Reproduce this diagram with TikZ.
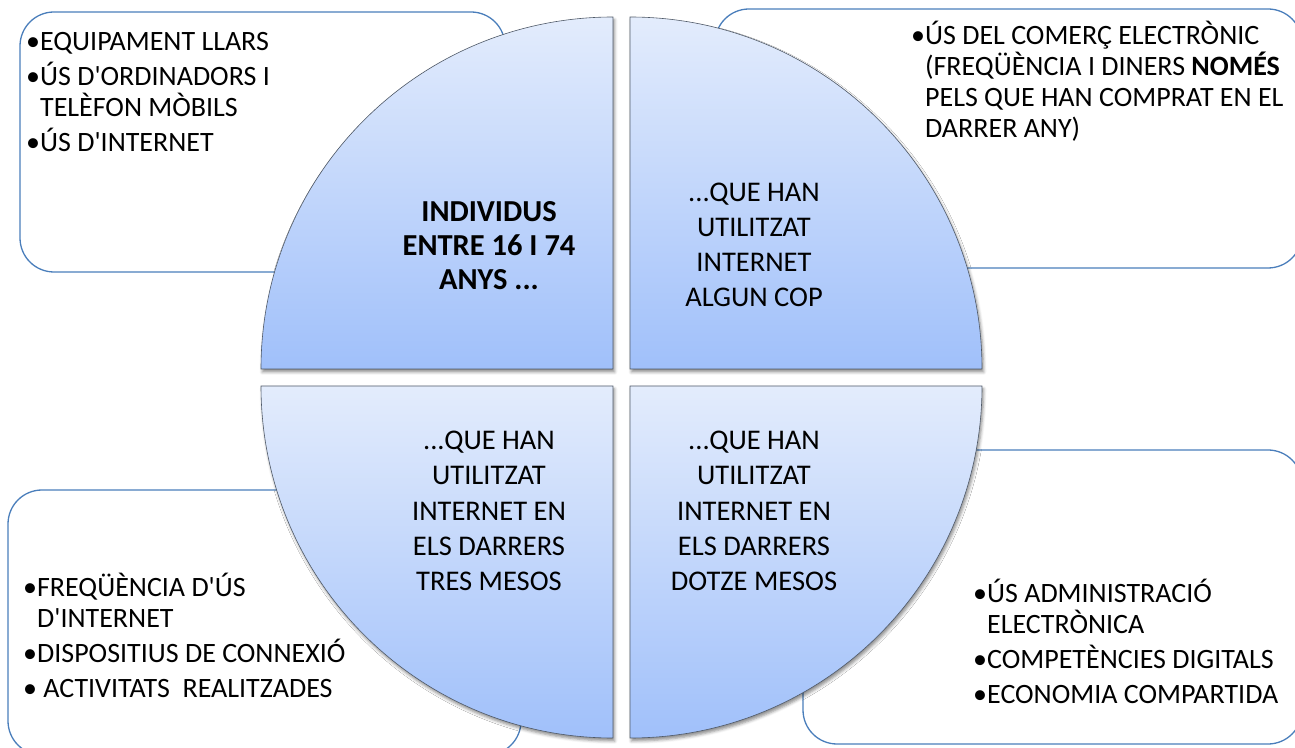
\documentclass[tikz,border=0pt]{standalone}
\usepackage{fontspec}
\setmainfont{Carlito}[Ligatures=TeXOff]
\usetikzlibrary{shadows.blur}
\definecolor{boxblue}{HTML}{4A7EBB}
\definecolor{qtop}{HTML}{E3ECFC}
\definecolor{qbot}{HTML}{A0C0FA}
\definecolor{qline}{HTML}{505A68}
\tikzset{
  infobox/.style={draw=boxblue, line width=1.3pt, rounded corners=34pt, fill=white},
  quadrant/.style={draw=qline, line width=0.6pt, top color=qtop, bottom color=qbot,
    blur shadow={shadow xshift=1.5pt, shadow yshift=-3pt, shadow blur radius=3pt, shadow opacity=45}},
  sidetext/.style={inner sep=0pt, anchor=base west, align=left, font=\fontsize{28}{31}\selectfont},
  centertext/.style={inner sep=0pt, anchor=base, align=center}
}
\newcommand{\bl}{\textbullet}
\newcommand{\nb}{\phantom{\textbullet}}
\begin{document}
\begin{tikzpicture}[x=1pt,y=1pt]
\useasboundingbox (0,0) rectangle (1295,747);
% info boxes
\draw[infobox] (20,735) rectangle (505,475);
\draw[infobox] (715,738) rectangle (1302,479);
\draw[infobox] (8,257) rectangle (521,-8);
\draw[infobox] (803,297) rectangle (1302,3);
% quadrants
\coordinate (ctl) at (613,378);
\coordinate (ctr) at (630,378);
\coordinate (cbl) at (613,361);
\coordinate (cbr) at (630,361);
\path[quadrant] (ctl) -- ++(-352,0) arc[start angle=180, end angle=90, radius=352pt] -- cycle;
\path[quadrant] (ctr) -- ++(0,352) arc[start angle=90, end angle=0, radius=352pt] -- cycle;
\path[quadrant] (cbl) -- ++(-352,0) arc[start angle=180, end angle=270, radius=352pt] -- cycle;
\path[quadrant] (cbr) -- ++(352,0) arc[start angle=0, end angle=-90, radius=352pt] -- cycle;
% side texts (anchor = baseline of last line)
\node[sidetext] (t1) at (26,595) {\bl EQUIPAMENT LLARS\\[4pt]\bl ÚS D'ORDINADORS I\\\nb TELÈFON MÒBILS\\[4pt]\bl ÚS D'INTERNET};
\node[sidetext] (t2) at (911,609) {\bl ÚS DEL COMERÇ ELECTRÒNIC\\\nb (FREQÜÈNCIA I DINERS \textbf{NOMÉS}\\\nb PELS QUE HAN COMPRAT EN EL\\\nb DARRER ANY)};
\node[sidetext] (t3) at (23,50) {\bl FREQÜÈNCIA D'ÚS\\\nb D'INTERNET\\[4pt]\bl DISPOSITIUS DE CONNEXIÓ\\[4pt]\bl\ ACTIVITATS\ \ REALITZADES};
\node[sidetext] (t4) at (973,44) {\bl ÚS ADMINISTRACIÓ\\\nb ELECTRÒNICA\\[4pt]\bl COMPETÈNCIES DIGITALS\\[4pt]\bl ECONOMIA COMPARTIDA};
% center texts
\node[centertext, font=\bfseries\fontsize{30.5}{34}\selectfont] (c1) at (489,457) {INDIVIDUS\\ENTRE 16 I 74\\ANYS ...};
\node[centertext, font=\fontsize{28.5}{35}\selectfont] (c2) at (754,440) {...QUE HAN\\UTILITZAT\\INTERNET\\ALGUN COP};
\node[centertext, font=\fontsize{28.5}{35}\selectfont] (c3) at (489,157) {...QUE HAN\\UTILITZAT\\INTERNET EN\\ELS DARRERS\\TRES MESOS};
\node[centertext, font=\fontsize{28.5}{35}\selectfont] (c4) at (754,157) {...QUE HAN\\UTILITZAT\\INTERNET EN\\ELS DARRERS\\DOTZE MESOS};
\end{tikzpicture}
\end{document}
